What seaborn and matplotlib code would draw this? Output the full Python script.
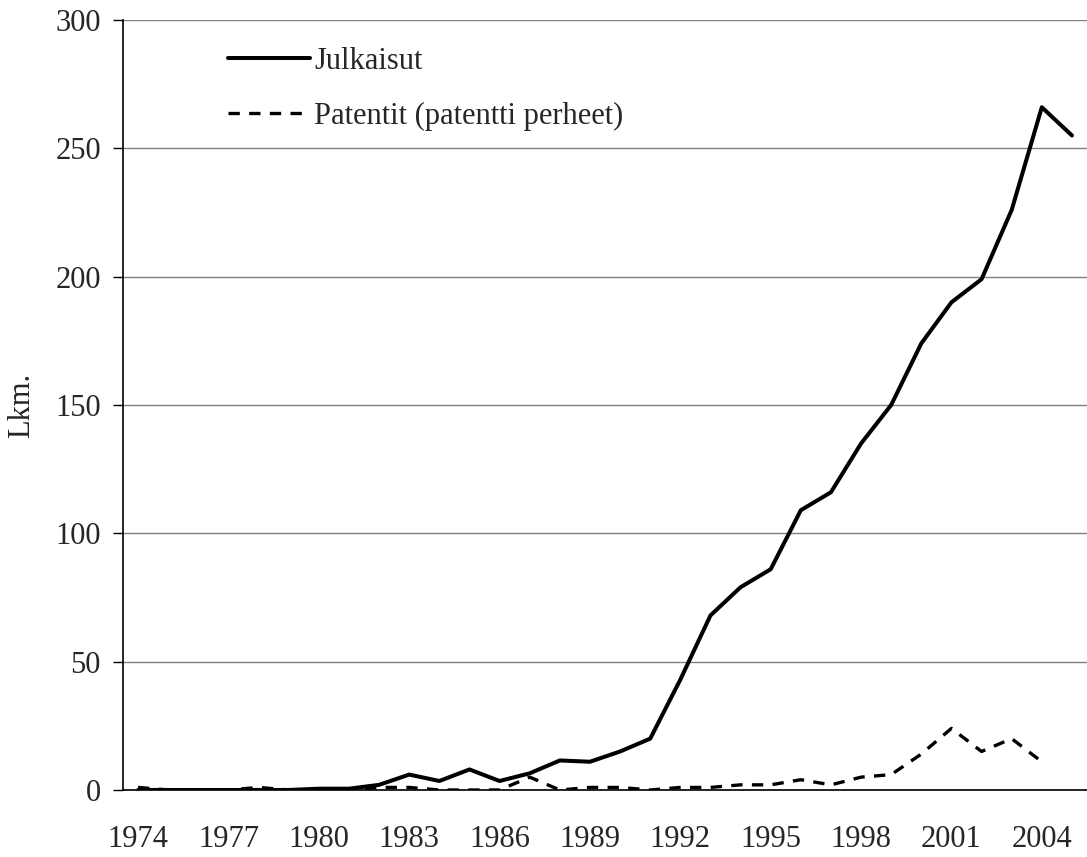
import pandas as pd
import seaborn as sns
import numpy as np
import matplotlib.pyplot as plt
from matplotlib.ticker import MultipleLocator, FixedLocator

years = list(range(1974, 2006))
julkaisut = [0, 0, 0, 0, 0, 0, 0.5, 0.5, 2, 6, 3.5, 8, 3.5, 6.5, 11.5, 11,
             15, 20, 43, 68, 79, 86, 109, 116, 135, 150, 174, 190, 199, 226,
             266, 255]
patentit = [1, 0, 0, 0, 1, 0, 0, 0, 1, 1, 0, 0, 0, 5, 0, 1,
            1, 0, 1, 1, 2, 2, 4, 2, 5, 6, 14, 24, 15, 20,
            11, np.nan]

dta = pd.DataFrame({"Vuosi": years, "Julkaisut": julkaisut, "Patentit": patentit})

sns.set_style("white")
plt.rcParams['font.family'] = ['Liberation Serif', 'DejaVu Serif']
fs = 22

fig, ax = plt.subplots(figsize=(10.87, 8.57), dpi=100)
fig.subplots_adjust(left=0.1132, right=1.0, top=0.9767, bottom=0.0782)

sns.lineplot(x="Vuosi", y="Julkaisut", data=dta, color="black", linewidth=2.9,
             label="Julkaisut", ax=ax)
sns.lineplot(x="Vuosi", y="Patentit", data=dta, color="black", linewidth=2.4,
             linestyle=(0, (3.4, 2.8)), label="Patentit (patentti perheet)", ax=ax)

ax.set_xlim(1973.5, 2005.5)
ax.set_ylim(0, 300)
ax.yaxis.set_major_locator(MultipleLocator(50))
ax.yaxis.grid(True, color="#808080", linewidth=1)
ax.set_axisbelow(True)

ax.set_xticks(years[::3])
ax.xaxis.set_minor_locator(FixedLocator(np.arange(1973.5, 2005.6, 1)))
ax.tick_params(axis="x", which="major", length=0, pad=25, labelsize=fs)
ax.tick_params(axis="x", which="minor", length=7, width=1, color="black", direction="out")
ax.tick_params(axis="y", length=7, width=1, color="black", direction="out", pad=9,
               labelsize=fs, left=True)

for s in ["top", "right"]:
    ax.spines[s].set_visible(False)
for s in ["left", "bottom"]:
    ax.spines[s].set_color("black")
    ax.spines[s].set_linewidth(1.2)

ax.set_xlabel("")
ax.set_ylabel("Lkm.", fontsize=fs, labelpad=14)

leg = ax.legend(loc="upper left", bbox_to_anchor=(0.093, 0.985), frameon=False,
                handlelength=2.7, handletextpad=0.12, labelspacing=0.85,
                borderpad=0, fontsize=fs)

plt.savefig("out.png", dpi=100)
